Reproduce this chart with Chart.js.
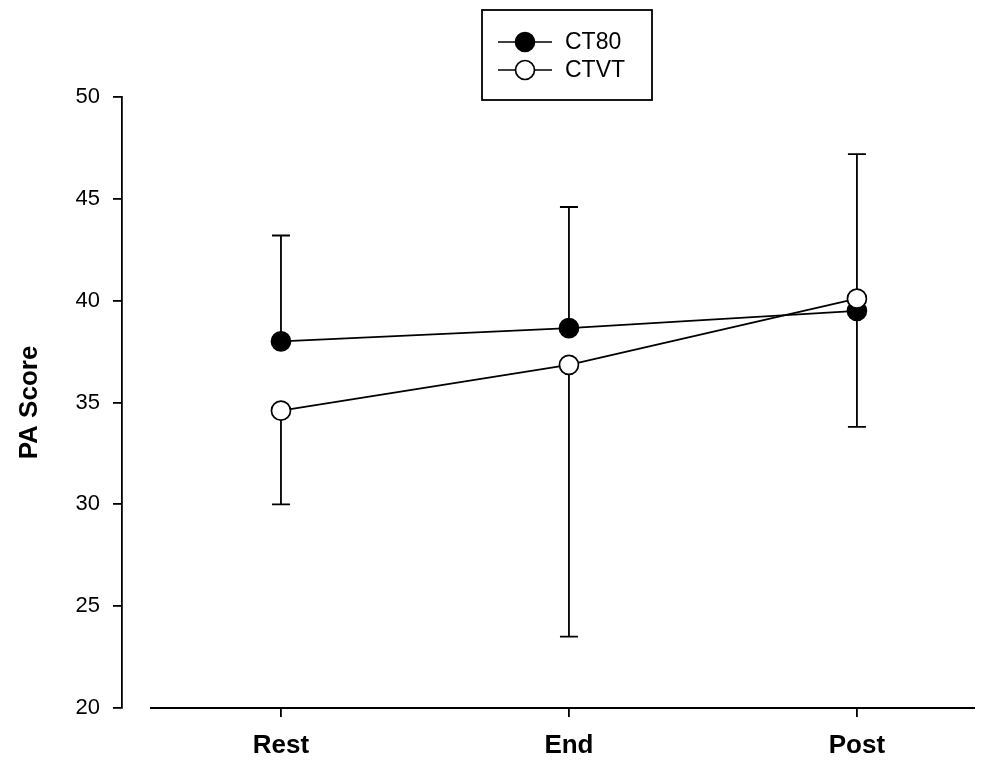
<!DOCTYPE html>
<html>
<head>
<meta charset="utf-8">
<script src="https://cdn.jsdelivr.net/npm/chart.js@4/dist/chart.umd.min.js"></script>
<style>
  html, body { margin: 0; padding: 0; background: #ffffff; }
  #wrap { width: 994px; height: 763px; }
</style>
</head>
<body>
<div id="wrap"><canvas id="c" width="994" height="763"></canvas></div>
<script>
// ---- data ----
const categories = ["Rest", "End", "Post"];
const seriesNames = ["CT80", "CTVT"];
const ct80Mean = [38.0, 38.65, 39.5];
const ctvtMean = [34.6, 36.85, 40.1];
// error bar ends (only one side of each bar is shown in the reference)
const ct80ErrEnd = [43.2, 44.6, 33.8];
const ctvtErrEnd = [30.0, 23.5, 47.2];
const yTicks = [20, 25, 30, 35, 40, 45, 50];
const yTitle = "PA Score";

const toPoints = (arr) => arr.map((v, i) => ({ x: i, y: v }));

const errorBarPlugin = {
  id: 'errorBars',
  beforeDatasetsDraw(chart) {
    const { ctx, scales: { x, y } } = chart;
    ctx.save();
    ctx.strokeStyle = '#000';
    ctx.lineWidth = 1.8;
    const cap = 9;
    chart.data.datasets.forEach(ds => {
      ds.errEnd.forEach((e, i) => {
        const px = x.getPixelForValue(i);
        const py0 = y.getPixelForValue(ds.data[i].y);
        const py1 = y.getPixelForValue(e);
        ctx.beginPath();
        ctx.moveTo(px, py0);
        ctx.lineTo(px, py1);
        ctx.moveTo(px - cap, py1);
        ctx.lineTo(px + cap, py1);
        ctx.stroke();
      });
    });
    ctx.restore();
  }
};

const axisLinePlugin = {
  id: 'xAxisLine',
  afterDraw(chart) {
    const { ctx, chartArea } = chart;
    ctx.save();
    ctx.strokeStyle = '#000';
    ctx.lineWidth = 1.8;
    ctx.beginPath();
    ctx.moveTo(chartArea.left + 28, chartArea.bottom);
    ctx.lineTo(chartArea.right, chartArea.bottom);
    ctx.stroke();
    ctx.restore();
  }
};

const legendPlugin = {
  id: 'boxLegend',
  afterDraw(chart) {
    const { ctx } = chart;
    const bx = 482, by = 10, bw = 170, bh = 90;
    ctx.save();
    ctx.fillStyle = '#fff';
    ctx.fillRect(bx, by, bw, bh);
    ctx.strokeStyle = '#000';
    ctx.lineWidth = 1.8;
    ctx.strokeRect(bx, by, bw, bh);
    const rows = [42, 70];
    chart.data.datasets.slice().sort((a, b) => a.legendIndex - b.legendIndex).forEach((ds, k) => {
      const yy = rows[k];
      ctx.beginPath();
      ctx.moveTo(bx + 16, yy);
      ctx.lineTo(bx + 70, yy);
      ctx.lineWidth = 1.7;
      ctx.strokeStyle = '#000';
      ctx.stroke();
      ctx.beginPath();
      ctx.arc(bx + 43, yy, 9.5, 0, Math.PI * 2);
      ctx.fillStyle = ds.pointBackgroundColor;
      ctx.fill();
      ctx.stroke();
      ctx.fillStyle = '#000';
      ctx.font = '23px "Liberation Sans", Arial, sans-serif';
      ctx.textBaseline = 'middle';
      ctx.textAlign = 'left';
      ctx.fillText(ds.label, bx + 83, yy + 1);
    });
    ctx.restore();
  }
};

new Chart(document.getElementById('c'), {
  type: 'line',
  data: {
    datasets: [
      {
        label: seriesNames[1], legendIndex: 1, order: 0,
        data: toPoints(ctvtMean), errEnd: ctvtErrEnd,
        borderColor: '#000', borderWidth: 1.7,
        pointRadius: 9.5, pointBorderWidth: 1.7,
        pointBackgroundColor: '#fff', pointBorderColor: '#000',
        tension: 0, fill: false
      },
      {
        label: seriesNames[0], legendIndex: 0, order: 1,
        data: toPoints(ct80Mean), errEnd: ct80ErrEnd,
        borderColor: '#000', borderWidth: 1.7,
        pointRadius: 9.5, pointBorderWidth: 1.7,
        pointBackgroundColor: '#000', pointBorderColor: '#000',
        tension: 0, fill: false
      }
    ]
  },
  options: {
    responsive: false,
    animation: false,
    devicePixelRatio: 1,
    layout: { padding: { left: 0, top: 97, right: 19, bottom: 0 } },
    plugins: { legend: { display: false }, tooltip: { enabled: false } },
    scales: {
      x: {
        type: 'linear',
        min: -0.552,
        max: 2.41,
        afterFit(s) { s.height = 55; },
        afterBuildTicks(s) { s.ticks = categories.map((c, i) => ({ value: i })); },
        border: { display: false },
        grid: { display: true, drawOnChartArea: false, drawTicks: true, tickLength: 9, color: '#000', lineWidth: 1.8 },
        ticks: {
          callback: (v) => categories[v],
          color: '#000',
          padding: 13,
          maxRotation: 0,
          font: { family: '"Liberation Sans", Arial, sans-serif', size: 26, weight: 'bold' }
        }
      },
      y: {
        type: 'linear',
        min: 20,
        max: 50,
        afterFit(s) { s.width = 122; },
        afterBuildTicks(s) { s.ticks = yTicks.map(v => ({ value: v })); },
        border: { display: true, color: '#000', width: 1.8 },
        grid: { display: true, drawOnChartArea: false, drawTicks: true, tickLength: 9, color: '#000', lineWidth: 1.8 },
        ticks: {
          color: '#000',
          padding: 13,
          font: { family: '"Liberation Sans", Arial, sans-serif', size: 22 }
        },
        title: {
          display: true,
          text: yTitle,
          color: '#000',
          padding: { top: 14, bottom: 0 },
          font: { family: '"Liberation Sans", Arial, sans-serif', size: 26, weight: 'bold' }
        }
      }
    }
  },
  plugins: [errorBarPlugin, axisLinePlugin, legendPlugin]
});
</script>
</body>
</html>
